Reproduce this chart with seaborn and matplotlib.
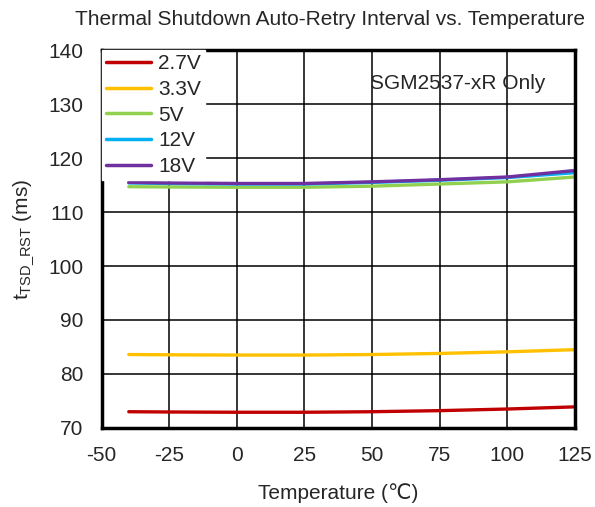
import matplotlib
matplotlib.use("Agg")
import matplotlib.pyplot as plt
import seaborn as sns
import pandas as pd

temps = [-40, -25, 0, 25, 50, 75, 100, 125]
v27 = [73.0, 72.95, 72.9, 72.9, 73.0, 73.2, 73.5, 73.9]
v33 = [83.6, 83.55, 83.5, 83.5, 83.6, 83.8, 84.1, 84.5]
v5 = [114.7, 114.65, 114.6, 114.6, 114.8, 115.2, 115.6, 116.5]
v12 = [115.4, 115.3, 115.2, 115.2, 115.5, 115.9, 116.4, 117.3]
v18 = [115.5, 115.4, 115.3, 115.3, 115.6, 116.0, 116.5, 117.7]
labels = ["2.7V", "3.3V", "5V", "12V", "18V"]
colors = ["#C00000", "#FFC000", "#92D050", "#00B0F0", "#7030A0"]
xticks = [-50, -25, 0, 25, 50, 75, 100, 125]
yticks = [70, 80, 90, 100, 110, 120, 130, 140]

rows = []
for lab, ser in zip(labels, [v27, v33, v5, v12, v18]):
    for t, v in zip(temps, ser):
        rows.append({"Temperature": t, "value": v, "Vin": lab})
df = pd.DataFrame(rows)

sns.set_style("white")
plt.rcParams['font.family'] = ['Liberation Sans', 'DejaVu Sans']
plt.rcParams['mathtext.fontset'] = 'custom'
plt.rcParams['mathtext.rm'] = 'Liberation Sans'
plt.rcParams['mathtext.it'] = 'Liberation Sans'
plt.rcParams['axes.unicode_minus'] = False

FS = 15
fig = plt.figure(figsize=(5.95, 5.07), dpi=100)
ax = fig.add_axes([0.171, 0.156, 0.795, 0.745])
sns.lineplot(data=df, x="Temperature", y="value", hue="Vin", hue_order=labels,
             palette=colors, linewidth=2.4, ax=ax)

ax.set_xlim(-50, 125)
ax.set_ylim(70, 140)
ax.set_xticks(xticks)
ax.set_yticks(yticks)
ax.tick_params(axis='y', labelsize=FS, length=0, pad=13)
ax.tick_params(axis='x', labelsize=FS, length=0, pad=13)
ax.grid(True, color='black', linewidth=1.1)
ax.set_axisbelow(True)
for s in ax.spines.values():
    s.set_color('black')
    s.set_linewidth(2.5)

ax.set_xlabel("Temperature (\u2103)", fontsize=FS, labelpad=13)
ax.set_ylabel(r"t$_{\mathrm{TSD\_RST}}$ (ms)", fontsize=FS, labelpad=9)
fig.text(0.555, 0.962, "Thermal Shutdown Auto-Retry Interval vs. Temperature",
         ha='center', va='center', fontsize=15)
ax.text(0.937, 0.913, "SGM2537-xR Only", transform=ax.transAxes,
        ha='right', va='center', fontsize=FS)

leg = ax.legend(loc='upper left', frameon=True, fontsize=FS, handlelength=2.15,
                borderaxespad=0.0, labelspacing=0.32, handletextpad=0.35,
                borderpad=0.2, fancybox=False)
leg.get_frame().set_edgecolor('white')
leg.get_frame().set_facecolor('white')
leg.get_frame().set_alpha(1.0)
for line in leg.get_lines():
    line.set_linewidth(2.5)

fig.savefig("out.png", dpi=100)
